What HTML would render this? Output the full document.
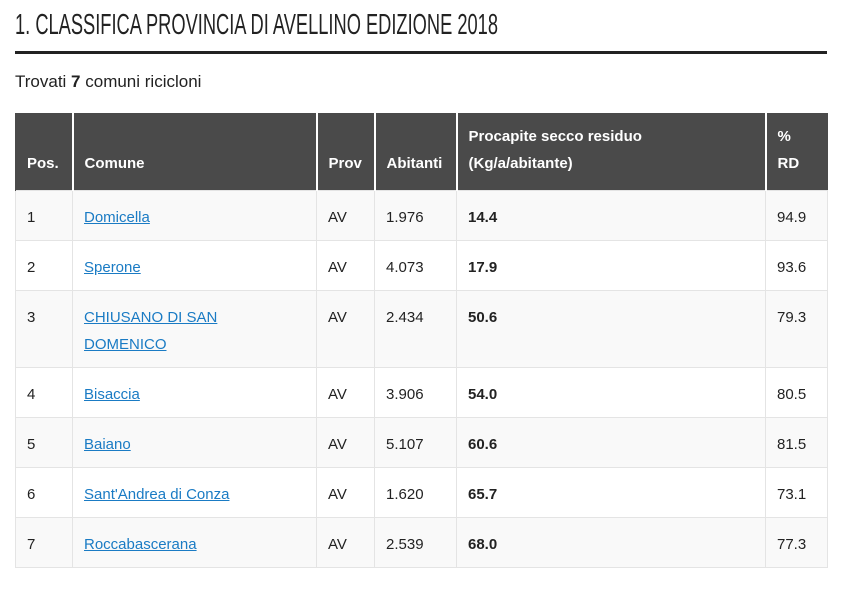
<!DOCTYPE html>
<html><head><meta charset="utf-8"><style>
body{margin:0;width:850px;height:589px;background:#fff;font-family:"Liberation Sans",sans-serif;position:relative;overflow:hidden}
h1{position:absolute;left:15px;top:9px;margin:0;font-weight:normal;font-size:29px;color:#222;white-space:nowrap;transform:scaleX(0.63);transform-origin:0 0;letter-spacing:0}
.rule{position:absolute;left:15px;top:51px;width:812px;height:3px;background:#222}
.found{position:absolute;left:15px;top:72px;font-size:17px;color:#222}
table{position:absolute;left:15px;top:113px;width:812px;border-collapse:collapse;table-layout:fixed;font-size:15px;color:#222}
th{background:#4a4a4a;color:#fff;text-align:left;vertical-align:bottom;font-weight:bold;padding:0 11px 13px;line-height:27px;border-left:2px solid #fff;height:37px}
th:first-child{border-left:1px solid #4a4a4a}
thead tr{height:77px}
td{border:1px solid #e4e4e4;vertical-align:top;padding:13px 11px 0;line-height:27px}
tbody tr{height:50px}
tbody tr:nth-child(odd){background:#f9f9f9}
tbody tr.tall{height:77px}
a{color:#1a7bc4;text-decoration:underline}
b{font-weight:bold}
</style></head><body>
<h1>1. CLASSIFICA PROVINCIA DI AVELLINO EDIZIONE 2018</h1>
<div class="rule"></div>
<div class="found">Trovati <b>7</b> comuni ricicloni</div>
<table>
<colgroup><col style="width:57px"><col style="width:244px"><col style="width:58px"><col style="width:82px"><col style="width:309px"><col style="width:62px"></colgroup>
<thead><tr>
<th>Pos.</th>
<th>Comune</th>
<th>Prov</th>
<th>Abitanti</th>
<th>Procapite secco residuo<br>(Kg/a/abitante)</th>
<th>%<br>RD</th>
</tr></thead>
<tbody>
<tr><td>1</td><td><a href="#">Domicella</a></td><td>AV</td><td>1.976</td><td><b>14.4</b></td><td>94.9</td></tr>
<tr><td>2</td><td><a href="#">Sperone</a></td><td>AV</td><td>4.073</td><td><b>17.9</b></td><td>93.6</td></tr>
<tr class="tall"><td>3</td><td><a href="#">CHIUSANO DI SAN<br>DOMENICO</a></td><td>AV</td><td>2.434</td><td><b>50.6</b></td><td>79.3</td></tr>
<tr><td>4</td><td><a href="#">Bisaccia</a></td><td>AV</td><td>3.906</td><td><b>54.0</b></td><td>80.5</td></tr>
<tr><td>5</td><td><a href="#">Baiano</a></td><td>AV</td><td>5.107</td><td><b>60.6</b></td><td>81.5</td></tr>
<tr><td>6</td><td><a href="#">Sant'Andrea di Conza</a></td><td>AV</td><td>1.620</td><td><b>65.7</b></td><td>73.1</td></tr>
<tr><td>7</td><td><a href="#">Roccabascerana</a></td><td>AV</td><td>2.539</td><td><b>68.0</b></td><td>77.3</td></tr>
</tbody></table>
</body></html>
